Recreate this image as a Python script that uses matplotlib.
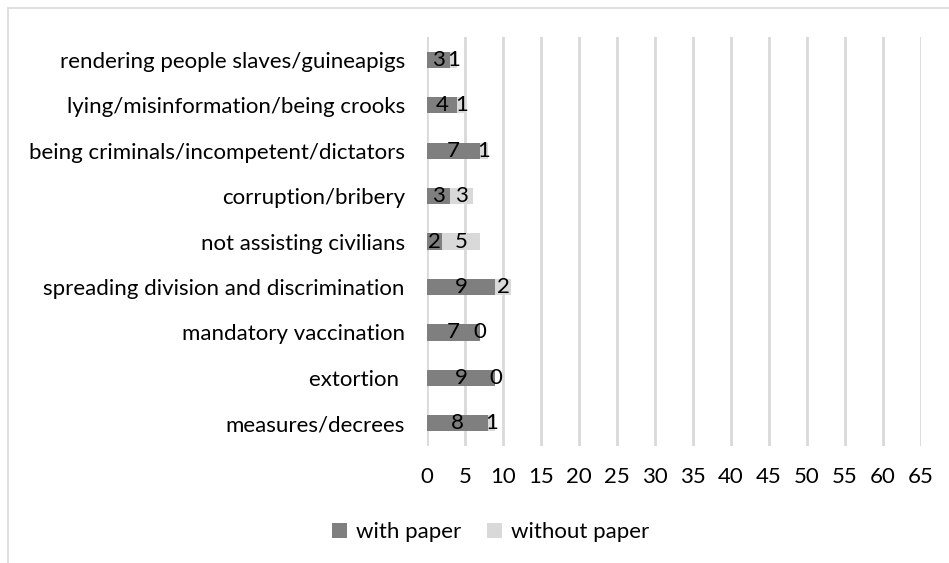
import matplotlib
matplotlib.use("Agg")
import matplotlib.pyplot as plt
from matplotlib.patches import Rectangle

categories = [
    "measures/decrees",
    "extortion ",
    "mandatory vaccination",
    "spreading division and discrimination",
    "not assisting civilians",
    "corruption/bribery",
    "being criminals/incompetent/dictators",
    "lying/misinformation/being crooks",
    "rendering people slaves/guineapigs",
]
with_paper = [8, 9, 7, 9, 2, 3, 7, 4, 3]
without_paper = [1, 0, 0, 2, 5, 3, 1, 1, 1]
x_ticks = list(range(0, 70, 5))

DARK = "#7f7f7f"
LIGHT = "#d9d9d9"
GRID = "#d9d9d9"
FS = 16

plt.rcParams["font.family"] = ["Lato", "DejaVu Sans"]

fig = plt.figure(figsize=(9.49, 5.63), dpi=100)
ax = fig.add_axes([0.45, 0.208, 0.5205, 0.726])

# outer chart frame
fig.patches.append(Rectangle((8 / 949, -0.1), 1.2, 1 - 8 / 563 + 0.1,
                             transform=fig.transFigure, fill=False,
                             edgecolor=GRID, linewidth=1.2))

y = range(len(categories))
bh = 0.36
ax.barh(y, with_paper, height=bh, color=DARK, label="with paper", zorder=3)
ax.barh(y, without_paper, left=with_paper, height=bh, color=LIGHT,
        label="without paper", zorder=3)

for i in y:
    w, wo = with_paper[i], without_paper[i]
    ax.text(w / 2, i, str(w), ha="center", va="center", fontsize=FS,
            color="black", zorder=4)
    ax.text(w + wo / 2, i, str(wo), ha="center", va="center", fontsize=FS,
            color="black", zorder=4)

ax.set_xlim(0, 65)
ax.set_ylim(-0.5, len(categories) - 0.5)
ax.set_xticks(x_ticks)
ax.set_yticks(list(y))
ax.set_yticklabels(categories)
ax.xaxis.grid(True, color=GRID, linewidth=2)
ax.set_axisbelow(True)
for s in ax.spines.values():
    s.set_visible(False)
ax.tick_params(axis="both", length=0, labelsize=FS, colors="black")
ax.tick_params(axis="x", pad=15)
ax.tick_params(axis="y", pad=16)

fig.legend(loc="center", bbox_to_anchor=(0.517, 1 - 532 / 563), ncol=2,
           frameon=False, fontsize=FS, handlelength=0.65, handleheight=0.65,
           columnspacing=1.2, handletextpad=0.4)

fig.savefig("out.png", dpi=100)
